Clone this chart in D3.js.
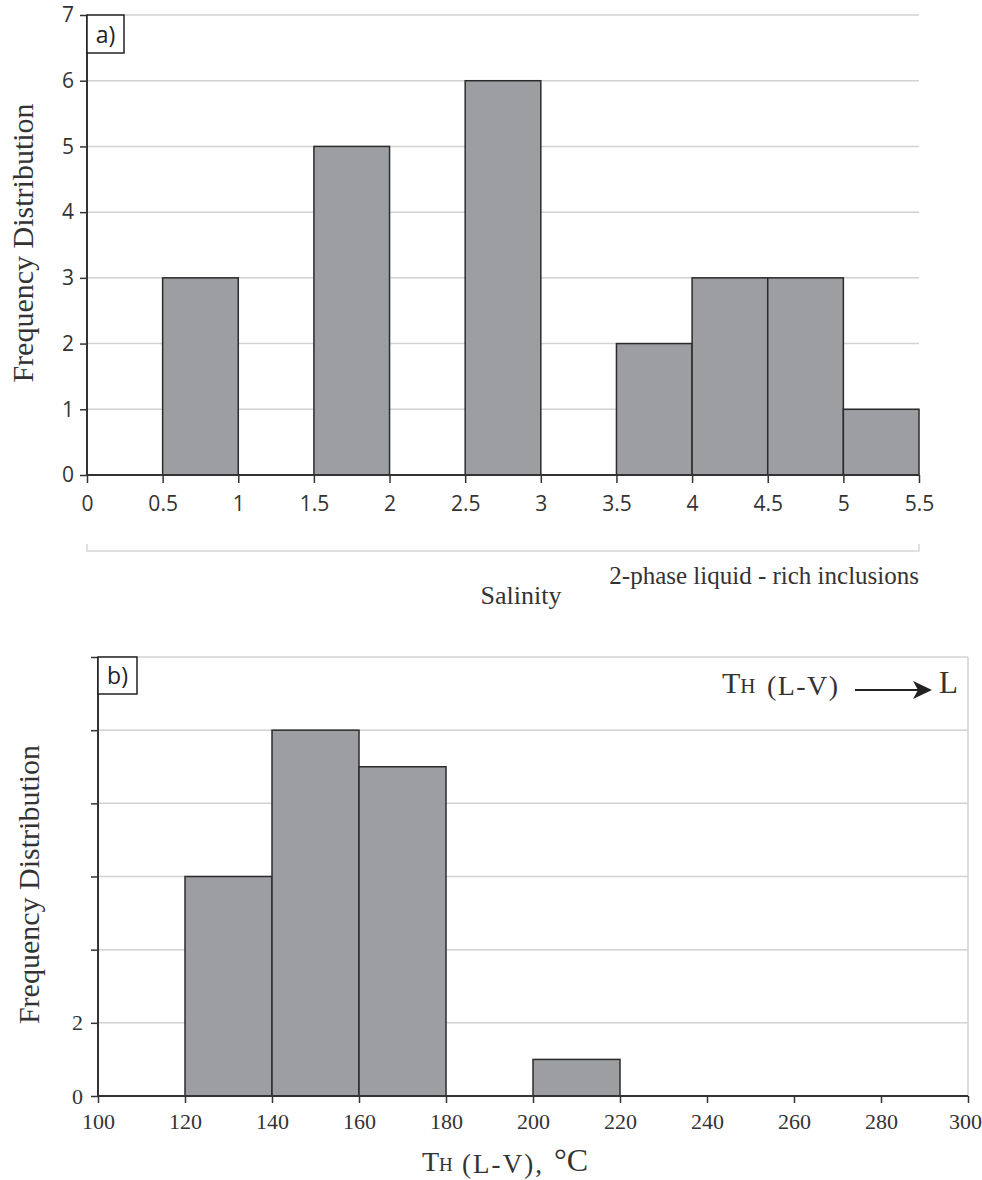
<!DOCTYPE html>
<html><head><meta charset="utf-8">
<script src="https://cdn.jsdelivr.net/npm/d3@7"></script>
<style>
html,body{margin:0;padding:0;background:#fff;}
svg{display:block;}
</style></head>
<body>
<svg id="chart" width="982" height="1180"></svg>
<script>
// ---- Panel a data: salinity histogram ----
const salinityBinStarts = [0, 0.5, 1, 1.5, 2, 2.5, 3, 3.5, 4, 4.5, 5];
const salinityCounts    = [0, 3, 0, 5, 0, 6, 0, 2, 3, 3, 1];
const salinityBinWidth  = 0.5;
const salinityTicks     = [0, 0.5, 1, 1.5, 2, 2.5, 3, 3.5, 4, 4.5, 5, 5.5];
const salinityYTicks    = [0, 1, 2, 3, 4, 5, 6, 7];

// ---- Panel b data: homogenization temperature histogram ----
const tempBinStarts = [100, 120, 140, 160, 180, 200, 220, 240, 260, 280];
const tempCounts    = [0, 6, 10, 9, 0, 1, 0, 0, 0, 0];
const tempBinWidth  = 20;
const tempTicks     = [100, 120, 140, 160, 180, 200, 220, 240, 260, 280, 300];
const tempYTicks    = [0, 2, 4, 6, 8, 10, 12];
const tempYLabeled  = [0, 2];

const svg = d3.select("#chart");
const SERIF = "'Liberation Serif','DejaVu Serif',serif";
const SANS = "'Open Sans','Noto Sans',sans-serif";
const barFill = "#9d9ea2", barStroke = "#2b2b2b", gridC = "#d2d2d2", axisC = "#333", txtC = "#333";

// ================= Panel a =================
const xa = d3.scaleLinear().domain([0, 5.5]).range([87, 919]);
const ya = d3.scaleLinear().domain([0, 7]).range([475, 15]);
const ga = svg.append("g");

ga.selectAll("line.grid").data(salinityYTicks.filter(d => d > 0)).join("line")
  .attr("x1", xa(0)).attr("x2", xa(5.5)).attr("y1", d => ya(d)).attr("y2", d => ya(d))
  .attr("stroke", gridC).attr("stroke-width", 1.5);

const dataA = salinityBinStarts.map((s, i) => ({x0: s, x1: s + salinityBinWidth, c: salinityCounts[i]})).filter(d => d.c > 0);
ga.selectAll("rect").data(dataA).join("rect")
  .attr("x", d => xa(d.x0)).attr("width", d => xa(d.x1) - xa(d.x0))
  .attr("y", d => ya(d.c)).attr("height", d => ya(0) - ya(d.c))
  .attr("fill", barFill).attr("stroke", barStroke).attr("stroke-width", 1.5);

const yAxisA = ga.append("g").attr("transform", `translate(${xa(0)},0)`)
  .call(d3.axisLeft(ya).tickValues(salinityYTicks).tickSize(7).tickPadding(6).tickFormat(d3.format("d")));
const xAxisA = ga.append("g").attr("transform", `translate(0,${ya(0)})`)
  .call(d3.axisBottom(xa).tickValues(salinityTicks).tickSize(8).tickPadding(13).tickFormat(d => String(d)));
[yAxisA, xAxisA].forEach(a => {
  a.select(".domain").attr("stroke", axisC).attr("stroke-width", 2);
  a.selectAll(".tick line").attr("stroke", axisC).attr("stroke-width", 1.5);
  a.selectAll("text").attr("font-family", SANS).attr("font-size", 21).attr("fill", txtC);
});
yAxisA.select(".domain").attr("d", `M0,${ya(7)}V${ya(0)}`);
xAxisA.select(".domain").attr("d", `M${xa(0)},0H${xa(5.5)}`);

// a) label box
ga.append("rect").attr("x", xa(0)).attr("y", ya(7)).attr("width", 37).attr("height", 38)
  .attr("fill", "#fff").attr("stroke", "#222").attr("stroke-width", 1.5);
ga.append("text").attr("x", xa(0) + 18.5).attr("y", ya(7) + 28).attr("text-anchor", "middle")
  .attr("font-family", SANS).attr("font-size", 23).attr("fill", "#222").text("a)");

// y title
ga.append("text").attr("transform", `translate(33,${(ya(0)+ya(7))/2 - 2}) rotate(-90)`)
  .attr("text-anchor", "middle").attr("font-family", SERIF).attr("font-size", 30).attr("fill", txtC)
  .text("Frequency Distribution");

// bracket
ga.append("path").attr("d", `M${xa(0)},544V551H${xa(5.5)}V544`)
  .attr("fill", "none").attr("stroke", "#d8d8d8").attr("stroke-width", 1.5);
ga.append("text").attr("x", xa(5.5)).attr("y", 584).attr("text-anchor", "end")
  .attr("font-family", SERIF).attr("font-size", 25).attr("fill", txtC)
  .text("2-phase liquid - rich inclusions");
ga.append("text").attr("x", 521).attr("y", 604).attr("text-anchor", "middle")
  .attr("font-family", SERIF).attr("font-size", 26).attr("fill", txtC).text("Salinity");

// ================= Panel b =================
const xb = d3.scaleLinear().domain([100, 300]).range([98, 968]);
const yb = d3.scaleLinear().domain([0, 12]).range([1096, 657]);
const gb = svg.append("g");

gb.selectAll("line.grid").data(tempYTicks.filter(d => d > 0)).join("line")
  .attr("x1", xb(100)).attr("x2", xb(300)).attr("y1", d => yb(d)).attr("y2", d => yb(d))
  .attr("stroke", gridC).attr("stroke-width", 1.5);
gb.append("line").attr("x1", xb(300)).attr("x2", xb(300)).attr("y1", yb(12)).attr("y2", yb(0))
  .attr("stroke", gridC).attr("stroke-width", 1.5);

const dataB = tempBinStarts.map((s, i) => ({x0: s, x1: s + tempBinWidth, c: tempCounts[i]})).filter(d => d.c > 0);
gb.selectAll("rect").data(dataB).join("rect")
  .attr("x", d => xb(d.x0)).attr("width", d => xb(d.x1) - xb(d.x0))
  .attr("y", d => yb(d.c)).attr("height", d => yb(0) - yb(d.c))
  .attr("fill", barFill).attr("stroke", barStroke).attr("stroke-width", 1.5);

const yAxisB = gb.append("g").attr("transform", `translate(${xb(100)},0)`)
  .call(d3.axisLeft(yb).tickValues(tempYTicks).tickSize(7).tickPadding(8)
    .tickFormat(d => tempYLabeled.includes(d) ? String(d) : ""));
const xAxisB = gb.append("g").attr("transform", `translate(0,${yb(0)})`)
  .call(d3.axisBottom(xb).tickValues(tempTicks).tickSize(7).tickPadding(10).tickFormat(d => String(d)));
[yAxisB, xAxisB].forEach(a => {
  a.select(".domain").attr("stroke", axisC).attr("stroke-width", 2);
  a.selectAll(".tick line").attr("stroke", axisC).attr("stroke-width", 1.5);
  a.selectAll("text").attr("font-family", SERIF).attr("font-size", 22).attr("fill", txtC);
});
yAxisB.select(".domain").attr("d", `M0,${yb(12)}V${yb(0)}`);
xAxisB.select(".domain").attr("d", `M${xb(100)},0H${xb(300)}`);
xAxisB.selectAll(".tick text").filter(d => d === 300).attr("dx", -3);

// b) label box
gb.append("rect").attr("x", xb(100)).attr("y", yb(12)).attr("width", 39).attr("height", 37)
  .attr("fill", "#fff").attr("stroke", "#222").attr("stroke-width", 1.5);
gb.append("text").attr("x", xb(100) + 19.5).attr("y", yb(12) + 27).attr("text-anchor", "middle")
  .attr("font-family", SANS).attr("font-size", 23).attr("fill", "#222").text("b)");

// y title
gb.append("text").attr("transform", `translate(39,${(yb(0)+yb(12))/2 + 8}) rotate(-90)`)
  .attr("text-anchor", "middle").attr("font-family", SERIF).attr("font-size", 30).attr("fill", txtC)
  .text("Frequency Distribution");

// helper for the T_H labels
function thLabel(g, x, y, tSize, hSize, rest) {
  const t = g.append("text").attr("x", x).attr("y", y).attr("font-family", SERIF).attr("fill", txtC);
  t.append("tspan").attr("font-size", tSize).text("T");
  t.append("tspan").attr("font-size", hSize).text("H");
  rest.forEach(r => {
    const e = g.append("text").attr("x", r.x).attr("y", r.y).attr("font-family", SERIF).attr("fill", txtC)
      .attr("font-size", r.size).text(r.text);
    if (r.len) e.attr("textLength", r.len).attr("lengthAdjust", "spacing");
  });
}

// x title: "TH (L-V), °C"
thLabel(gb, 422, 1171, 28, 19, [
  {text: "(L-V),", x: 462, y: 1173, size: 27, len: 80},
  {text: "°C", x: 554, y: 1171, size: 32}
]);

// top-right annotation: "TH (L-V) → L"
thLabel(gb, 722, 693, 30, 21, [
  {text: "(L-V)", x: 767, y: 695, size: 28, len: 71},
  {text: "L", x: 939, y: 693, size: 31, len: 19}
]);
gb.append("line").attr("x1", 855).attr("x2", 922).attr("y1", 690).attr("y2", 690)
  .attr("stroke", "#222").attr("stroke-width", 2);
gb.append("path").attr("d", "M913,681L932,690L913,699L918,690Z").attr("fill", "#222");
</script>
</body></html>
